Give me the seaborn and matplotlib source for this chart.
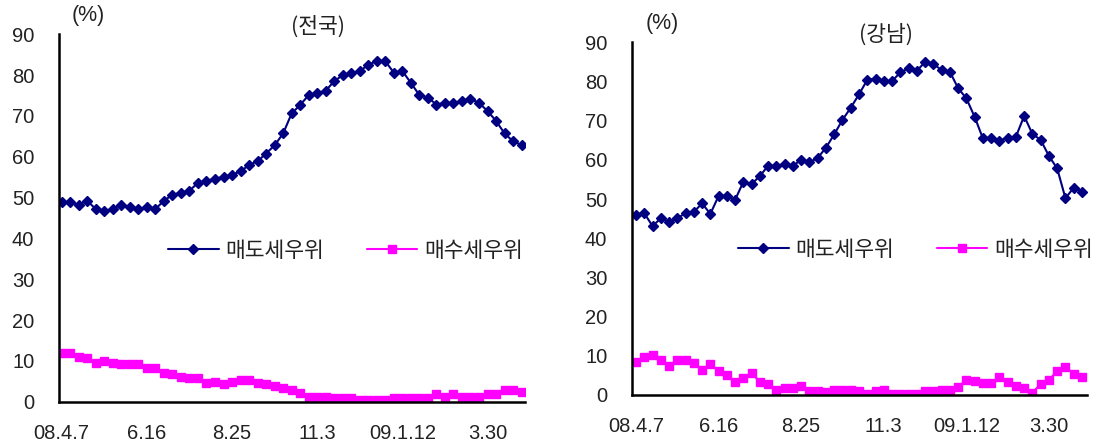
import matplotlib
matplotlib.use("Agg")
import matplotlib.pyplot as plt
import seaborn as sns
import numpy as np
import pandas as pd

# Weekly survey: share of brokers reporting seller- vs buyer-dominant market (%)
tick_labels = ["08.4.7", "6.16", "8.25", "11.3", "09.1.12", "3.30"]
series_names = ["매도세우위", "매수세우위"]

sell_nation = [48.9, 48.8, 48.3, 49.2, 47.2, 46.7, 47.2, 48.3, 47.7, 47.2,
               47.7, 47.2, 49.2, 50.7, 51.2, 51.7, 53.6, 54.1, 54.6, 55.1,
               55.6, 56.4, 58.0, 58.9, 60.8, 62.8, 65.7, 70.6, 72.7, 75.1,
               75.5, 76.2, 78.5, 80.0, 80.4, 81.0, 82.5, 83.5, 83.4, 80.6,
               81.0, 78.1, 75.1, 74.5, 72.8, 73.2, 73.2, 73.7, 74.2, 73.2,
               71.2, 68.8, 65.7, 63.8, 62.9]
buy_nation = [12.0, 12.0, 11.0, 10.6, 9.6, 10.0, 9.6, 9.2, 9.2, 9.2,
              8.3, 8.2, 7.1, 6.8, 6.1, 5.7, 5.7, 4.5, 4.9, 4.3,
              4.9, 5.3, 5.3, 4.5, 4.3, 3.8, 3.3, 2.9, 2.2, 1.2,
              1.2, 1.2, 0.8, 0.8, 0.8, 0.4, 0.4, 0.4, 0.4, 0.8,
              0.8, 0.8, 0.8, 0.8, 1.9, 1.2, 2.0, 1.2, 1.2, 1.2,
              1.9, 1.9, 2.9, 2.9, 2.4]

sell_gangnam = [45.9, 46.4, 43.1, 45.1, 44.2, 45.1, 46.4, 46.7, 48.9, 46.2,
                50.8, 50.8, 49.8, 54.4, 53.8, 55.9, 58.5, 58.5, 58.9, 58.5,
                60.0, 59.4, 60.5, 63.1, 66.5, 70.2, 73.3, 76.7, 80.4, 80.7,
                80.1, 80.1, 82.3, 83.4, 82.7, 85.0, 84.5, 82.9, 82.5, 78.3,
                75.7, 71.0, 65.5, 65.5, 64.9, 65.7, 65.9, 71.2, 66.6, 65.1,
                61.0, 57.8, 50.2, 52.9, 51.9]
buy_gangnam = [8.5, 9.8, 10.2, 8.9, 7.4, 8.9, 8.9, 8.2, 6.4, 7.9,
               6.2, 5.1, 3.2, 4.3, 5.5, 3.4, 2.8, 1.3, 1.7, 1.7,
               2.4, 1.1, 1.1, 0.8, 1.2, 1.3, 1.3, 0.9, 0.3, 0.9,
               1.3, 0.3, 0.3, 0.3, 0.3, 0.9, 0.9, 1.3, 1.3, 2.1,
               3.8, 3.7, 3.1, 3.1, 4.5, 3.2, 2.4, 1.7, 0.6, 2.8,
               3.8, 6.2, 7.2, 5.4, 4.5]

sns.set_style("white")
plt.rcParams["font.family"] = ["Liberation Sans", "Noto Sans CJK KR"]
plt.rcParams["axes.unicode_minus"] = False

NAVY = "#000080"
MAGENTA = "#FF00FF"
FS = 14.5
KFS = 15.5
KFONT = ["Noto Sans CJK KR", "Liberation Sans"]

fig = plt.figure(figsize=(11.01, 4.47), dpi=100)

panels = [
    dict(title="(전국)", sell=sell_nation, buy=buy_nation,
         rect=[59.3, 34.3, 525.0, 401.7], xlim=(-0.28, 54.4),
         title_xy=(318, 27), pct_xy=(88, 16), legend_x=168, legend_y=251),
    dict(title="(강남)", sell=sell_gangnam, buy=buy_gangnam,
         rect=[632.3, 42.3, 1086.5, 395.0], xlim=(-0.45, 54.55),
         title_xy=(886, 35), pct_xy=(662, 23), legend_x=738, legend_y=250),
]

W, H = 1101.0, 447.0
for p in panels:
    x0, ytop, x1, ybot = p["rect"]
    ax = fig.add_axes([x0 / W, 1 - ybot / H, (x1 - x0) / W, (ybot - ytop) / H])
    n = len(p["sell"])
    df = pd.DataFrame({
        "week": np.concatenate([np.arange(n), np.arange(n)]),
        "value": p["sell"] + p["buy"],
        "series": [series_names[0]] * n + [series_names[1]] * n,
    })
    sns.lineplot(data=df[df.series == series_names[0]], x="week", y="value",
                 color=NAVY, marker="D", markersize=5.0, markeredgewidth=1.0,
                 markeredgecolor=NAVY, linewidth=1.5, ax=ax,
                 label=series_names[0])
    sns.lineplot(data=df[df.series == series_names[1]], x="week", y="value",
                 color=MAGENTA, marker="s", markersize=6.4, markeredgewidth=1.0,
                 markeredgecolor=MAGENTA, linewidth=1.5, ax=ax,
                 label=series_names[1])

    ax.set_xlim(*p["xlim"])
    ax.set_ylim(0, 90)
    ax.set_yticks(range(0, 91, 10))
    ax.set_xticks(range(0, 51, 10))
    ax.set_xticklabels(tick_labels)
    ax.set_xticks(range(0, n), minor=True)
    ax.set_xlabel("")
    ax.set_ylabel("")
    for side in ["top", "right"]:
        ax.spines[side].set_visible(False)
    for side in ["left", "bottom"]:
        ax.spines[side].set_linewidth(1.8)
        ax.spines[side].set_color("black")
    ax.tick_params(axis="y", direction="in", length=6, width=1.3,
                   labelsize=FS, pad=18, colors="black", labelcolor="#222222")
    ax.tick_params(axis="x", which="both", direction="in", length=5, width=1.3,
                   labelsize=FS, pad=16, colors="black", labelcolor="#222222")
    ax.grid(False)

    leg = ax.legend(loc="center left",
                    bbox_to_anchor=(p["legend_x"] / W, 1 - p["legend_y"] / H),
                    bbox_transform=fig.transFigure, ncol=2, frameon=False,
                    borderpad=0, borderaxespad=0, handlelength=2.35,
                    handletextpad=0.3, columnspacing=2.0,
                    prop={"family": KFONT, "size": KFS})
    for t in leg.get_texts():
        t.set_color("#222222")

    fig.text(p["title_xy"][0] / W, 1 - p["title_xy"][1] / H, p["title"],
             ha="center", va="center", fontsize=KFS, family=KFONT,
             color="#222222")
    fig.text(p["pct_xy"][0] / W, 1 - p["pct_xy"][1] / H, "(%)",
             ha="center", va="center", fontsize=FS + 1, color="#222222")

fig.savefig("out.png", dpi=100)
